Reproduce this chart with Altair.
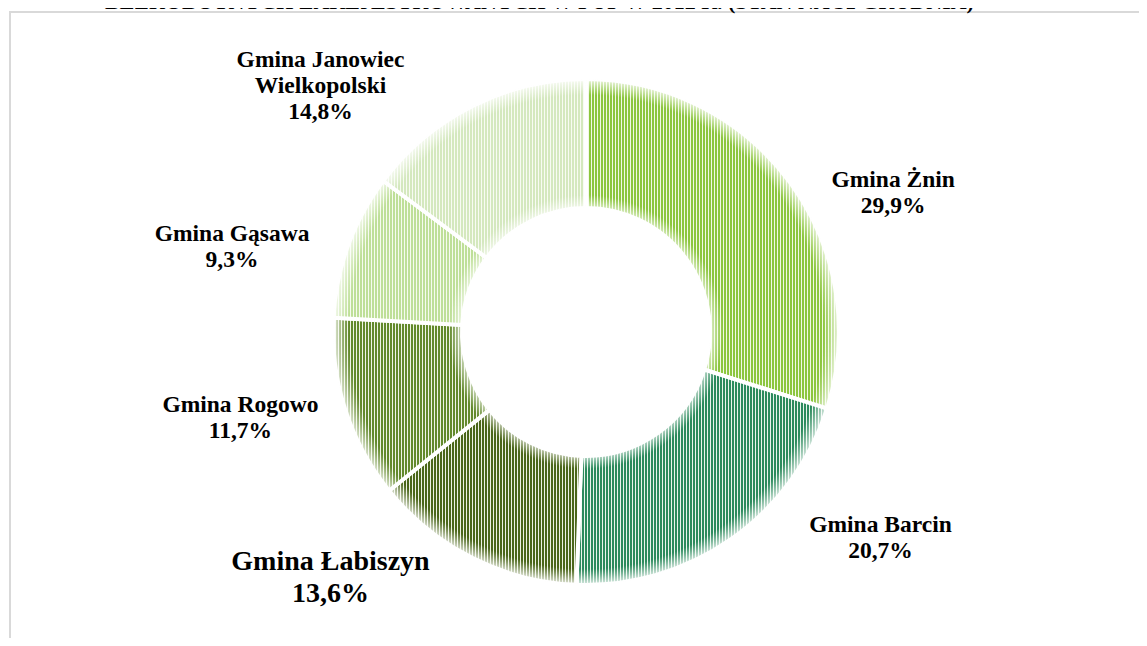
import math
import altair as alt
import pandas as pd

# ---------------- data ----------------
names = ["Gmina Żnin", "Gmina Barcin", "Gmina Łabiszyn", "Gmina Rogowo",
         "Gmina Gąsawa", "Gmina Janowiec Wielkopolski"]
label_names = [["Gmina Żnin"], ["Gmina Barcin"], ["Gmina Łabiszyn"], ["Gmina Rogowo"],
               ["Gmina Gąsawa"], ["Gmina Janowiec", "Wielkopolski"]]
shares = [29.9, 20.7, 13.6, 11.7, 9.3, 14.8]
title_text = "BEZROBOTNYCH ZAREJESTROWANYCH W PUP W 2012 R. (STAN NA 31 GRUDNIA)"

# ---------------- styles ----------------
fg_colors = ["#8CC63E", "#2B8A5C", "#4A6619", "#62892B", "#BEDF98", "#D4E8BE"]
bg_colors = ["#F1F8E6", "#E9F3EC", "#EDF1E3", "#EEF3E5", "#F6FBEF", "#F8FBF3"]
label_sizes = [23.5, 23.5, 28, 23.5, 23.5, 23.5]
label_lh = [26, 26, 32, 26, 26, 26]
label_nudge = [(65, 32), (122, -45), (-121, -30), (-60, -12), (-72, 12), (-131, 3)]

W, H = 1131, 630
CX, CY = 578, 324
R_OUT, R_IN = 253, 124
R_LABEL = 300
STRIPE_P, STRIPE_FG = 3.0, 2.0
FONT = "Liberation Serif"

df = pd.DataFrame({
    "order": list(range(len(names))),
    "name": names,
    "share": shares,
    "label": ["\n".join(l + [f"{v:.1f}".replace(".", ",") + "%"]) for l, v in zip(label_names, shares)],
})
one = pd.DataFrame({"k": [0]})

theta_scale = alt.Scale(domain=[0, 100], range=[0, 2 * math.pi])

base = alt.Chart(df).transform_window(
    cum="sum(share)", frame=[None, 0], sort=[alt.SortField("order")]
).transform_calculate(
    start="datum.cum - datum.share", mid="datum.cum - datum.share / 2"
)


def stripe_gradient(i):
    total = sum(shares)
    a0 = sum(shares[:i]) / total * 2 * math.pi
    a1 = sum(shares[:i + 1]) / total * 2 * math.pi
    xs = []
    for k in range(301):
        a = a0 + (a1 - a0) * k / 300
        xs += [math.sin(a) * R_OUT, math.sin(a) * R_IN]
    width = max(xs) - min(xs)
    n = int(math.ceil(width / STRIPE_P))
    stops = []
    for k in range(n):
        o0 = min(1.0, k * STRIPE_P / width)
        o1 = min(1.0, (k * STRIPE_P + STRIPE_FG) / width)
        o2 = min(1.0, (k + 1) * STRIPE_P / width)
        stops += [{"offset": o0, "color": fg_colors[i]}, {"offset": o1, "color": fg_colors[i]},
                  {"offset": o1, "color": bg_colors[i]}, {"offset": o2, "color": bg_colors[i]}]
    return {"gradient": "linear", "x1": 0, "y1": 0, "x2": 1, "y2": 0, "stops": stops}


layers = []
# frame
layers.append(alt.Chart(one).mark_rect(filled=False, stroke="#D9D9D9", strokeWidth=2).encode(
    x=alt.value(2), x2=alt.value(1400), y=alt.value(4), y2=alt.value(1000)))
# cut-off title (only its lower edge shows, as in the reference)
layers.append(alt.Chart(one).mark_text(
    font=FONT, fontWeight="bold", fontSize=22, align="left", baseline="alphabetic", color="black"
).encode(x=alt.value(97), y=alt.value(0.5), text=alt.value(title_text)))

for i, nm in enumerate(names):
    layers.append(base.transform_filter(alt.datum.name == nm).mark_arc(
        radius=R_OUT, radius2=R_IN, stroke="white", strokeWidth=4, fill=stripe_gradient(i)
    ).encode(
        theta=alt.Theta("start:Q", scale=theta_scale, stack=False),
        theta2="cum:Q",
        x=alt.value(CX), y=alt.value(CY),
    ))

# soft edge overlay
fi = R_IN / R_OUT
fade = [
    {"offset": 0, "color": "rgba(255,255,255,0.7)"},
    {"offset": fi, "color": "rgba(255,255,255,0.7)"},
    {"offset": fi + 13 / R_OUT, "color": "rgba(255,255,255,0)"},
    {"offset": 1 - 16 / R_OUT, "color": "rgba(255,255,255,0)"},
    {"offset": 1, "color": "rgba(255,255,255,0.85)"},
]
layers.append(alt.Chart(one).mark_arc(
    radius=R_OUT, radius2=R_IN, theta=0, theta2=2 * math.pi,
    fill={"gradient": "radial", "x1": 0.5, "y1": 0.5, "x2": 0.5, "y2": 0.5, "r1": 0, "r2": 0.5, "stops": fade}
).encode(x=alt.value(CX), y=alt.value(CY)))

for i, nm in enumerate(names):
    dx, dy = label_nudge[i]
    layers.append(base.transform_filter(alt.datum.name == nm).mark_text(
        font=FONT, fontWeight="bold", fontSize=label_sizes[i], lineHeight=label_lh[i],
        lineBreak="\n", align="center", baseline="alphabetic", color="black",
        radius=R_LABEL, dx=dx, dy=dy
    ).encode(
        theta=alt.Theta("mid:Q", scale=theta_scale, stack=False),
        x=alt.value(CX), y=alt.value(CY),
        text="label:N",
    ))

chart = alt.layer(*layers).properties(
    width=W, height=H, padding=0, autosize=alt.AutoSizeParams(type="none")
).configure(background="white").configure_view(strokeWidth=0)

chart.save("out.html", embed_options={"renderer": "svg", "actions": False})
